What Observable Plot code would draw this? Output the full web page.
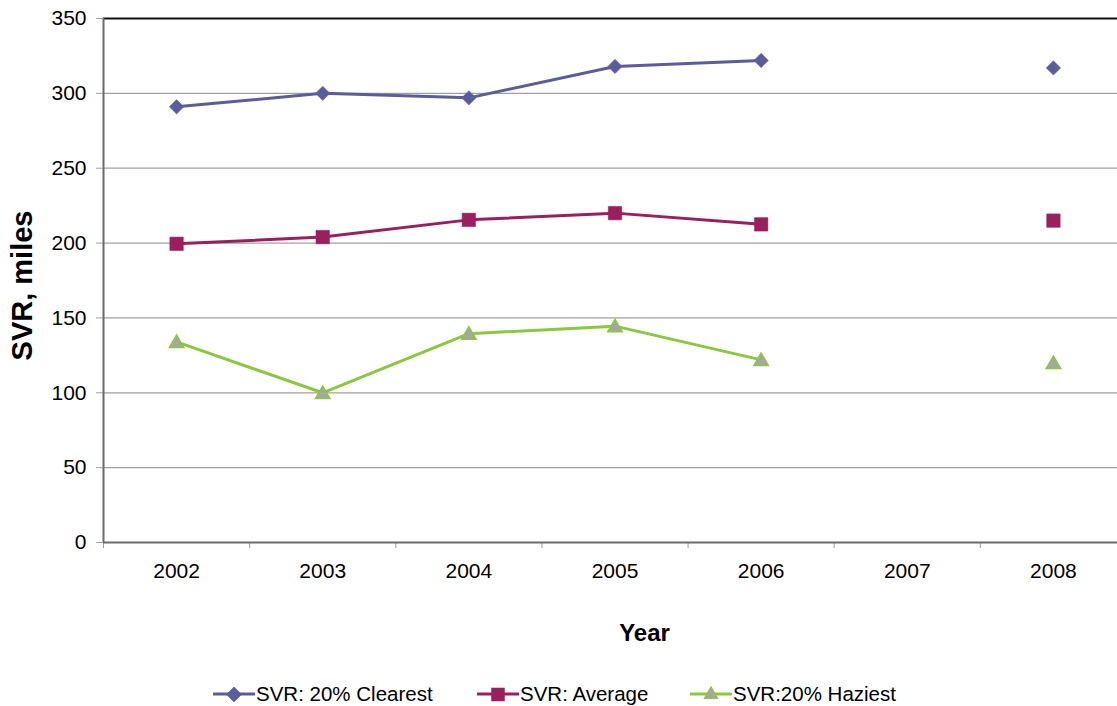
<!DOCTYPE html>
<html>
<head>
<meta charset="utf-8">
<script src="https://cdn.jsdelivr.net/npm/d3@7"></script>
<script src="https://cdn.jsdelivr.net/npm/@observablehq/plot@0.6"></script>
<style>
  html, body { margin: 0; padding: 0; background: #fff; overflow: hidden; width: 1117px; height: 706px; }
  #chart { position: absolute; left: 0; top: 0; width: 1117px; overflow: hidden; }
  #legend { position: absolute; left: 0; top: 682px; width: 1117px; height: 24px;
            font-family: "Liberation Sans", Arial, sans-serif; font-size: 20.5px; color: #000; }
  .item { position: absolute; top: 0; display: flex; align-items: center; white-space: nowrap; }
  .item svg { display: block; }
</style>
</head>
<body>
<div id="chart"></div>
<div id="legend"></div>
<script>
// Standard visual range (SVR) by year; 2007 has no data
const years = [2002, 2003, 2004, 2005, 2006, 2007, 2008];
const clearest = [291, 300, 297, 318, 322, null, 317];
const average = [199.5, 204, 215.5, 220, 212.5, null, 215];
const haziest = [134, 100, 139.5, 144.5, 122, null, 120];
const yTicks = [0, 50, 100, 150, 200, 250, 300, 350];
const seriesNames = ["SVR: 20% Clearest", "SVR: Average", "SVR:20% Haziest"];

const colors = {clearest: "#5b5c9c", average: "#9a1f5d", haziest: "#8dc63f", triFill: "#a6a6a6"};

const rows = (vals) => years.map((year, i) => ({year, value: vals[i]}));
const boundaries = years.map(y => y - 0.5).concat([years[years.length - 1] + 0.5]);

const chart = Plot.plot({
  width: 1117,
  height: 670,
  marginLeft: 103,
  marginRight: 0,
  marginTop: 18,
  marginBottom: 128,
  style: {fontFamily: "'Liberation Sans', Arial, sans-serif", fontSize: "21px", color: "#000", background: "#fff", overflow: "hidden"},
  // the last category band runs a little past the right edge of the figure
  x: {type: "linear", domain: [2001.5, 2008.5], range: [103, 1126]},
  y: {domain: [0, 350]},
  marks: [
    // horizontal gridlines
    Plot.ruleY(yTicks.filter(d => d > 0 && d < 350), {stroke: "#a0a0a0", strokeWidth: 1.3}),
    Plot.ruleY([350], {stroke: "#111", strokeWidth: 2}),
    // axes
    Plot.axisY({ticks: yTicks, tickSize: 7, tickPadding: 10, stroke: "#a0a0a0", fill: "#000", fontSize: 21, label: null}),
    Plot.axisX({ticks: boundaries, tickSize: 6, tickFormat: () => "", stroke: "#a0a0a0", label: null}),
    Plot.axisX({ticks: years, tickSize: 0, tickPadding: 21, tickFormat: d => String(d), fill: "#000", fontSize: 21, label: null}),
    Plot.ruleX([2001.5], {stroke: "#6b6b6b", strokeWidth: 2}),
    Plot.ruleY([0], {stroke: "#6b6b6b", strokeWidth: 2}),
    // series lines (broken where the value is missing)
    Plot.line(rows(clearest), {x: "year", y: "value", stroke: colors.clearest, strokeWidth: 3}),
    Plot.line(rows(average), {x: "year", y: "value", stroke: colors.average, strokeWidth: 3}),
    Plot.line(rows(haziest), {x: "year", y: "value", stroke: colors.haziest, strokeWidth: 3}),
    // markers
    Plot.dot(rows(clearest).filter(d => d.value != null), {x: "year", y: "value", symbol: "diamond2", r: 6.5, fill: colors.clearest, stroke: colors.clearest, strokeWidth: 0.5}),
    Plot.dot(rows(average).filter(d => d.value != null), {x: "year", y: "value", symbol: "square", r: 7.6, fill: colors.average, stroke: colors.average, strokeWidth: 0.5}),
    Plot.dot(rows(haziest).filter(d => d.value != null), {x: "year", y: "value", symbol: "triangle", r: 5.3, dy: 1.5, fill: colors.triFill, stroke: colors.haziest, strokeWidth: 1.6}),
    // axis titles
    Plot.text(["SVR, miles"], {frameAnchor: "left", dx: -81, dy: 5, rotate: -90, textAnchor: "middle", lineAnchor: "middle", fontSize: 29, fontWeight: "bold", fill: "#000"}),
    Plot.text(["Year"], {frameAnchor: "bottom", dx: 34, dy: 91, textAnchor: "middle", lineAnchor: "middle", fontSize: 24, fontWeight: "bold", fill: "#000"})
  ]
});
document.getElementById("chart").appendChild(chart);

// legend below the chart
const legend = d3.select("#legend");
const legendItems = [
  {name: seriesNames[0], left: 213, color: colors.clearest, symbol: d3.symbolDiamond2, size: 125, fill: colors.clearest, stroke: colors.clearest},
  {name: seriesNames[1], left: 477, color: colors.average, symbol: d3.symbolSquare, size: 150, fill: colors.average, stroke: colors.average},
  {name: seriesNames[2], left: 690, color: colors.haziest, symbol: d3.symbolTriangle, size: 75, fill: colors.triFill, stroke: colors.haziest}
];
for (const it of legendItems) {
  const div = legend.append("div").attr("class", "item").style("left", it.left + "px");
  const svg = div.append("svg").attr("width", 42).attr("height", 24);
  svg.append("line").attr("x1", 0).attr("x2", 42).attr("y1", 12).attr("y2", 12)
    .attr("stroke", it.color).attr("stroke-width", 3);
  svg.append("path").attr("d", d3.symbol(it.symbol, it.size)())
    .attr("transform", "translate(21,12.5)")
    .attr("fill", it.fill).attr("stroke", it.stroke).attr("stroke-width", 1.2);
  div.append("span").style("margin-left", "1px").text(it.name);
}
</script>
</body>
</html>
